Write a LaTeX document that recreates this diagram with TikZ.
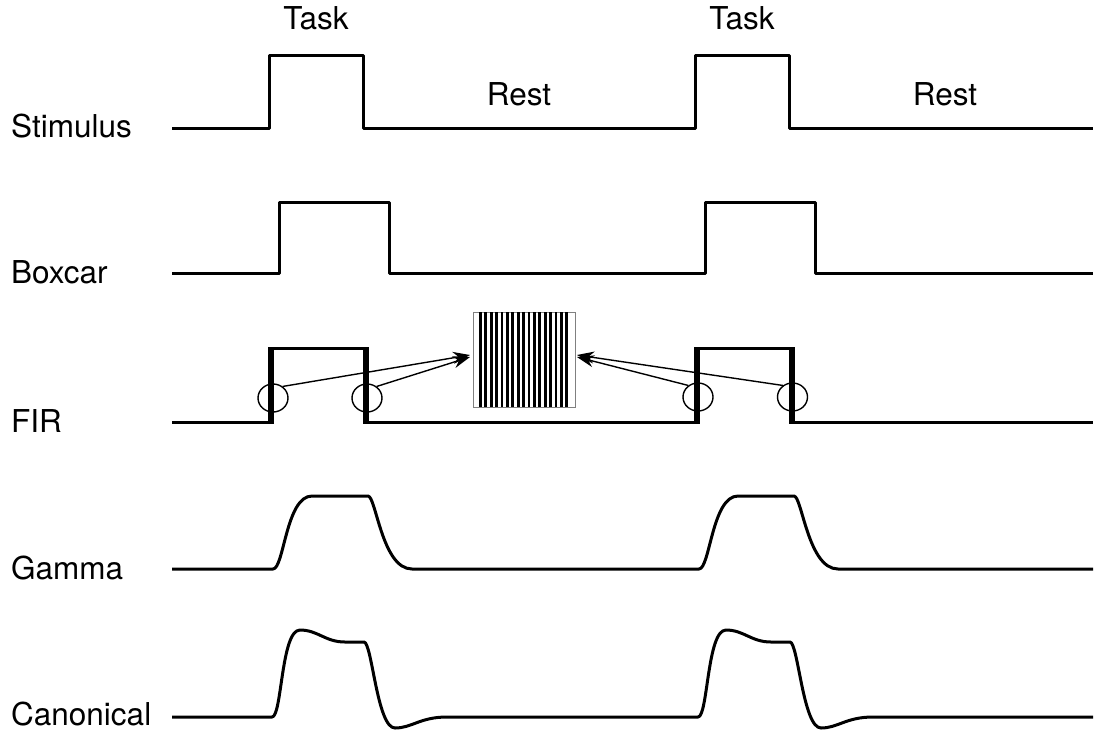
\documentclass[tikz,border=0pt]{standalone}
\usepackage{fontspec}
\setmainfont{TeX Gyre Heros}
\usetikzlibrary{arrows.meta,shapes.geometric}
\begin{document}
\begin{tikzpicture}[x=1pt,y=-1pt,
  sig/.style={line width=3pt, line join=round},
  firbar/.style={line width=6.5pt},
  lbl/.style={font=\fontsize{31.5}{36}\selectfont, inner sep=0pt},
  ring/.style={draw, ellipse, line width=1.4pt, minimum width=30pt, minimum height=28pt, inner sep=0pt},
  conn/.style={line width=1.4pt, -{Stealth[length=17pt,width=12pt]}},
  stripe/.style={line width=2.8pt},
]
\useasboundingbox (0,0) rectangle (1107,732);

% labels
\node[lbl, anchor=base west] (lstim) at (11,137) {Stimulus};
\node[lbl, anchor=base west] (lbox) at (11,283) {Boxcar};
\node[lbl, anchor=base west] (lfir) at (11,432) {FIR};
\node[lbl, anchor=base west] (lgam) at (11,579) {Gamma};
\node[lbl, anchor=base west] (lcan) at (11,725) {Canonical};
\node[lbl, anchor=base] (task1) at (316,29) {Task};
\node[lbl, anchor=base] (task2) at (742,29) {Task};
\node[lbl, anchor=base] (rest1) at (519,105) {Rest};
\node[lbl, anchor=base] (rest2) at (945,105) {Rest};

% stimulus
\draw[sig] (172,128) -- (269,128) -- (269,55) -- (363,55) -- (363,128) -- (695,128) -- (695,55) -- (789,55) -- (789,128) -- (1093,128);

% boxcar
\draw[sig] (172,273) -- (279,273) -- (279,202) -- (389,202) -- (389,273) -- (705,273) -- (705,202) -- (815,202) -- (815,273) -- (1093,273);

% FIR
\draw[sig] (172,422) -- (271,422) -- (271,348) -- (366,348) -- (366,422) -- (697,422) -- (697,348) -- (792,348) -- (792,422) -- (1093,422);
\draw[firbar] (271,423.5) -- (271,346.5);
\draw[firbar] (366,423.5) -- (366,346.5);
\draw[firbar] (697,423.5) -- (697,346.5);
\draw[firbar] (792,423.5) -- (792,346.5);

% striped box
\node[draw=gray, line width=0.9pt, minimum width=102pt, minimum height=95pt, inner sep=0pt, anchor=north west] (firbox) at (473,312) {};
\foreach \i in {0,...,16}
  \draw[stripe] ({480.3+5.4*\i},312) -- ({480.3+5.4*\i},407);

% rings
\node[ring] (c1) at (273,398) {};
\node[ring] (c2) at (367,398) {};
\node[ring] (c3) at (698,397) {};
\node[ring] (c4) at (792.5,397) {};
\coordinate (inL1) at (470,355);
\coordinate (inL2) at (470,357);
\coordinate (inR1) at (577,355);
\coordinate (inR2) at (577,357);
\draw[conn] (c1.50) -- (inL1);
\draw[conn] (c2.50) -- (inL2);
\draw[conn] (c3.130) -- (inR2);
\draw[conn] (c4.130) -- (inR1);

% gamma
\draw[sig] (172,569) -- (273,569) .. controls (284,569) and (286,496) .. (312,496) -- (368,496) .. controls (376,496) and (382,569) .. (412,569) -- (699,569) .. controls (710,569) and (712,496) .. (738,496) -- (794,496) .. controls (802,496) and (808,569) .. (838,569) -- (1093,569);

% canonical
\draw[sig] (172,717) -- (272,717) .. controls (282,717) and (281,630) .. (300,630) .. controls (318,630) and (325,642) .. (345,642) -- (364,642) .. controls (372,642) and (377,728) .. (395,728) .. controls (412,728) and (420,717) .. (447,717) -- (698,717) .. controls (708,717) and (707,630) .. (726,630) .. controls (744,630) and (751,642) .. (771,642) -- (790,642) .. controls (798,642) and (803,728) .. (821,728) .. controls (838,728) and (846,717) .. (873,717) -- (1093,717);
\end{tikzpicture}
\end{document}
